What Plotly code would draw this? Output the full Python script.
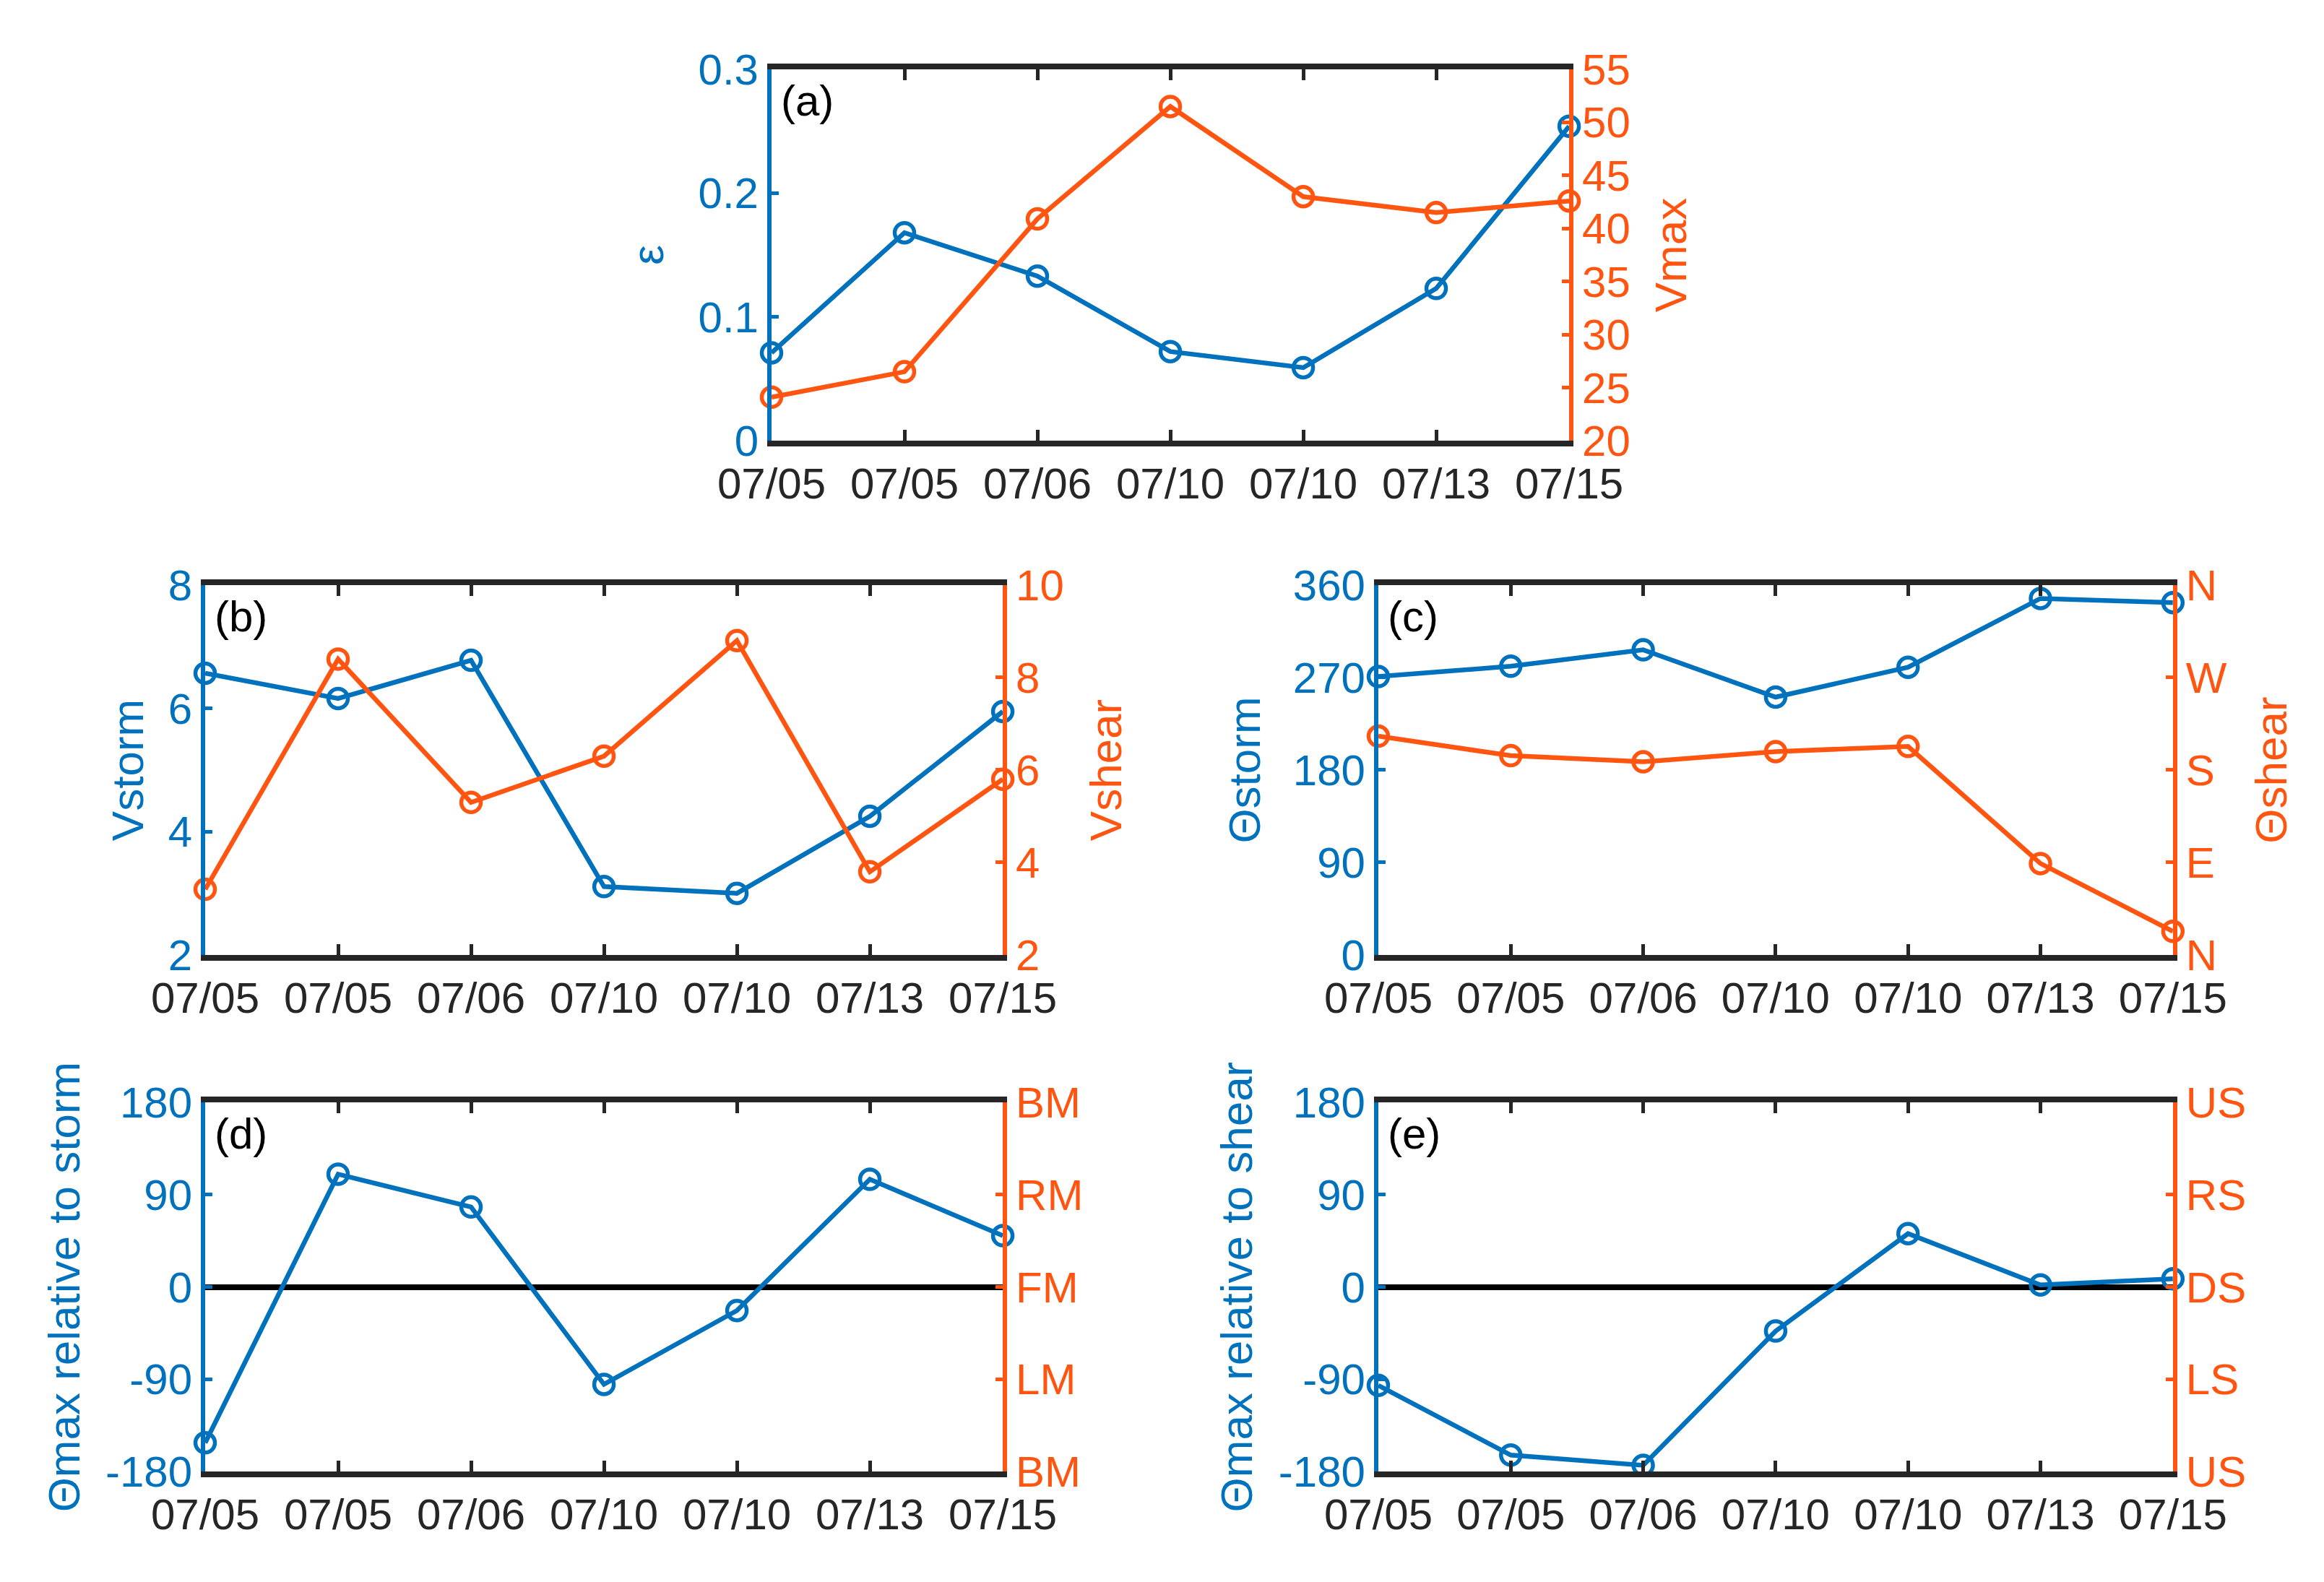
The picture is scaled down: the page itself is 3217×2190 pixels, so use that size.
import plotly.graph_objects as go

# Source data
dates = ["07/05", "07/05", "07/06", "07/10", "07/10", "07/13", "07/15"]
idx = list(range(len(dates)))

eps = [0.071, 0.168, 0.133, 0.072, 0.059, 0.123, 0.254]
vmax = [24.1, 26.5, 40.9, 51.5, 43.0, 41.5, 42.6]
vstorm = [6.57, 6.16, 6.78, 3.11, 3.0, 4.25, 5.95]
vshear = [3.42, 8.4, 5.3, 6.3, 8.8, 3.8, 5.8]
theta_storm = [271, 281, 297, 251, 280, 347, 343]
theta_shear = [213, 194, 188, 198, 203, 89, 23]
theta_max_storm = [-152, 110, 78, -95, -23, 105, 50]
theta_max_shear = [-96, -164, -174, -43, 52, 2, 8]

compass_vals = [0, 90, 180, 270, 360]
compass_text = ["N", "E", "S", "W", "N"]
rel_vals = [-180, -90, 0, 90, 180]
rel_text = ["-180", "-90", "0", "90", "180"]
motion_text = ["BM", "LM", "FM", "RM", "BM"]
shear_text = ["US", "LS", "DS", "RS", "US"]

BLUE = "#0072BD"
ORANGE = "#FF5511"
DARK = "#262626"
FONT = "Liberation Sans"
TICK_SIZE = 60
TITLE_SIZE = 62

panels = [
    dict(label="(a)", xd=[0.3295, 0.6727], yd=[0.7251, 0.9598],
         left=eps, right=vmax, lt="ε", rt="Vmax",
         ly=dict(range=[0, 0.3], dtick=0.1, tick0=0),
         ry=dict(range=[20, 55], dtick=5, tick0=20),
         lso=30, rso=37),
    dict(label="(b)", xd=[0.0858, 0.4290], yd=[0.400, 0.6338],
         left=vstorm, right=vshear, lt="Vstorm", rt="Vshear",
         ly=dict(range=[2, 8], dtick=2, tick0=2),
         ry=dict(range=[2, 10], dtick=2, tick0=2),
         lso=16, rso=39),
    dict(label="(c)", xd=[0.5906, 0.9325], yd=[0.400, 0.6338],
         left=theta_storm, right=theta_shear, lt="Θstorm", rt="Θshear",
         ly=dict(range=[0, 360], dtick=90, tick0=0),
         ry=dict(range=[0, 360], tickmode="array", tickvals=compass_vals, ticktext=compass_text),
         lso=27, rso=42),
    dict(label="(d)", xd=[0.0858, 0.4290], yd=[0.0735, 0.3068],
         left=theta_max_storm, right=None, lt="Θmax relative to storm", rt=None,
         ly=dict(range=[-180, 180], tickmode="array", tickvals=rel_vals, ticktext=rel_text),
         ry=dict(range=[-180, 180], tickmode="array", tickvals=rel_vals, ticktext=motion_text),
         lso=17, rso=20),
    dict(label="(e)", xd=[0.5906, 0.9325], yd=[0.0735, 0.3068],
         left=theta_max_shear, right=None, lt="Θmax relative to shear", rt=None,
         ly=dict(range=[-180, 180], tickmode="array", tickvals=rel_vals, ticktext=rel_text),
         ry=dict(range=[-180, 180], tickmode="array", tickvals=rel_vals, ticktext=shear_text),
         lso=18, rso=20),
]


def series(y, color, xa, ya, hidden=False):
    if hidden:
        # carries the right-hand axis only, draws nothing
        return go.Scatter(x=idx, y=y, xaxis=xa, yaxis=ya, mode="lines",
                          line=dict(width=0, color=color), opacity=0,
                          hoverinfo="skip", showlegend=False)
    return go.Scatter(
        x=idx, y=y, xaxis=xa, yaxis=ya,
        mode="lines+markers",
        line=dict(color=color, width=6.5),
        marker=dict(symbol="circle-open", size=27, color=color, line=dict(width=5.5, color=color)),
        cliponaxis=False, showlegend=False,
    )


fig = go.Figure()
layout = {}
annotations = []

for i, p in enumerate(panels):
    n = i + 1
    xk = "x" if n == 1 else f"x{n}"
    ly_n, ry_n = 2 * n - 1, 2 * n
    lk = "y" if ly_n == 1 else f"y{ly_n}"
    rk = f"y{ry_n}"

    fig.add_trace(series(p["left"], BLUE, xk, lk))
    if p["right"] is not None:
        fig.add_trace(series(p["right"], ORANGE, xk, rk))
    else:
        fig.add_trace(series(p["left"], ORANGE, xk, rk, hidden=True))

    layout["xaxis" if n == 1 else f"xaxis{n}"] = dict(
        domain=p["xd"], anchor=lk, range=[0, 6],
        tickmode="array", tickvals=idx, ticktext=dates,
        showline=True, linecolor=DARK, linewidth=8, mirror="ticks",
        ticks="inside", ticklen=15, tickwidth=5, tickcolor=DARK,
        tickfont=dict(family=FONT, size=TICK_SIZE, color=DARK),
        showgrid=False, zeroline=False, automargin=False,
    )
    zl = p["right"] is None
    layout["yaxis" if ly_n == 1 else f"yaxis{ly_n}"] = dict(
        domain=p["yd"], anchor=xk, side="left",
        showline=True, linecolor=BLUE, linewidth=6,
        ticks="inside", ticklen=10, tickwidth=5, tickcolor=BLUE,
        tickfont=dict(family=FONT, size=TICK_SIZE, color=BLUE),
        title=dict(text=p["lt"], font=dict(family=FONT, size=TITLE_SIZE, color=BLUE), standoff=p["lso"]),
        showgrid=False, zeroline=zl, zerolinecolor="black", zerolinewidth=8,
        automargin=False, **p["ly"],
    )
    ry = dict(
        overlaying=lk, anchor=xk, side="right",
        showline=True, linecolor=ORANGE, linewidth=6,
        ticks="inside", ticklen=10, tickwidth=5, tickcolor=ORANGE,
        tickfont=dict(family=FONT, size=TICK_SIZE, color=ORANGE),
        showgrid=False, zeroline=False, automargin=False, **p["ry"],
    )
    if p["rt"]:
        ry["title"] = dict(text=p["rt"], font=dict(family=FONT, size=TITLE_SIZE, color=ORANGE),
                           standoff=p["rso"])
    layout[f"yaxis{ry_n}"] = ry

    annotations.append(dict(
        text=p["label"], xref=f"{xk} domain", yref=f"{lk} domain",
        x=0.01, y=0.985, xanchor="left", yanchor="top", showarrow=False,
        font=dict(family=FONT, size=TICK_SIZE, color="black"),
    ))

fig.update_layout(
    **layout,
    annotations=annotations,
    width=3217, height=2190,
    margin=dict(l=0, r=0, t=0, b=0),
    paper_bgcolor="white", plot_bgcolor="white",
    showlegend=False,
)

fig.write_html("out.html")
